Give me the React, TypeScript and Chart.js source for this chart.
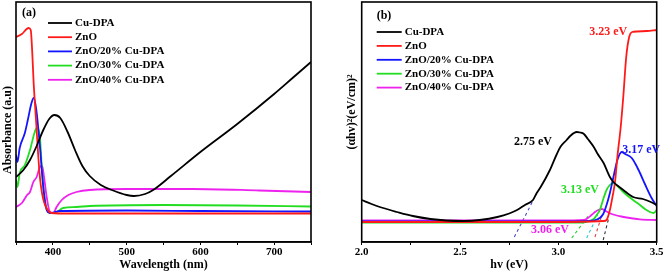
import React, { useEffect, useRef } from "react";
import { Chart, registerables } from "chart.js";

Chart.register(...registerables);

const SERIF = '"Liberation Serif", "Times New Roman", Times, serif';

// ---------- shared series ----------
const seriesNames = ["Cu-DPA", "ZnO", "ZnO/20% Cu-DPA", "ZnO/30% Cu-DPA", "ZnO/40% Cu-DPA"];
const seriesColors = ["#000000", "#ff1a1a", "#1414ff", "#22dd22", "#ee22ee"];

// ---------- panel (a): absorbance vs wavelength ----------
const cuDpaWavelength = [350, 360, 369, 378, 387, 395, 402, 410, 420, 430, 440, 450, 465, 480, 500, 510, 525, 536, 560, 600, 650, 700, 725, 750];
const cuDpaAbsorbance = [65, 72, 82, 96, 112, 123, 127, 124, 110, 92, 76, 66, 57, 52, 47, 46, 48, 52, 66, 90, 118, 148, 164, 180];

const znoWavelength = [350, 358, 367, 370, 372, 374, 376, 378, 380, 382.5, 385, 388, 392, 398, 420, 500, 600, 750];
const znoAbsorbance = [205, 208, 214, 212, 190, 158, 135, 112, 88, 64, 50, 40, 33, 29, 28.5, 28.5, 28.5, 28.5];

const zno20Wavelength = [350, 352, 355, 362, 366, 371, 374, 377.6, 382.5, 387, 391.6, 396, 410, 500, 600, 750];
const zno20Absorbance = [87, 80, 94, 109, 122, 139, 144, 132, 95, 55, 32, 29, 31, 31.5, 31, 30.5];

const zno30Wavelength = [350, 352, 355, 362, 369, 375, 378, 382.5, 385.5, 389, 394, 398.5, 405, 414, 432, 450, 550, 650, 750];
const zno30Absorbance = [62, 55, 69, 77, 92, 109, 114, 104, 69, 42, 30, 29, 30, 34, 35, 36, 37, 36.5, 35.5];

const zno40Wavelength = [350, 358, 365, 369, 373.5, 378, 382.5, 385.5, 388, 391.6, 396, 400.6, 405, 412, 421, 432, 450, 500, 590, 680, 750];
const zno40Absorbance = [35, 39, 47, 50, 60, 65, 75, 76, 65, 45, 30, 29, 35, 42, 47, 50, 52, 53, 53, 51.5, 50];

// ---------- panel (b): Tauc plot ----------
const cuDpaEnergy = [2.0, 2.05, 2.1, 2.18, 2.26, 2.35, 2.43, 2.52, 2.6, 2.69, 2.75, 2.79, 2.83, 2.871, 2.89, 2.91, 2.957, 2.99, 3.01, 3.042, 3.06, 3.093, 3.11, 3.13, 3.15, 3.18, 3.2, 3.23, 3.262, 3.28, 3.31, 3.33, 3.38, 3.43, 3.47, 3.5];
const cuDpaTauc = [42, 38, 34.5, 30, 26, 23, 21.5, 21, 22, 25, 28.5, 32, 37, 42, 49, 55, 72, 87, 95, 102, 106, 110, 109.5, 108, 103, 95, 88, 79, 65, 60, 55, 52, 45, 43, 40, 37];

const znoEnergy = [2.0, 2.5, 3.0, 3.23, 3.245, 3.262, 3.275, 3.288, 3.3, 3.317, 3.33, 3.345, 3.36, 3.375, 3.4, 3.45, 3.5];
const znoTauc = [20, 20, 20, 21, 22, 32, 45, 60, 85, 115, 145, 185, 205, 210, 210.5, 211, 212];

const zno20Energy = [2.0, 2.5, 3.0, 3.15, 3.19, 3.21, 3.228, 3.245, 3.262, 3.28, 3.3, 3.322, 3.34, 3.373, 3.395, 3.415, 3.44, 3.474, 3.5];
const zno20Tauc = [20.5, 20.5, 20.5, 21, 22, 24, 28, 37, 49, 65, 82, 90, 88, 84, 77, 69, 58, 44, 36];

const zno30Energy = [2.0, 2.5, 3.0, 3.12, 3.16, 3.18, 3.195, 3.211, 3.23, 3.245, 3.262, 3.279, 3.3, 3.325, 3.347, 3.38, 3.415, 3.44, 3.466, 3.485, 3.5];
const zno30Tauc = [19.5, 19.5, 19.5, 19.5, 21, 23, 27, 32, 44, 52, 57, 59, 56, 51, 47, 42, 37, 33, 30, 29, 32];

const zno40Energy = [2.0, 2.5, 3.0, 3.13, 3.15, 3.169, 3.19, 3.203, 3.22, 3.245, 3.265, 3.288, 3.32, 3.347, 3.38, 3.415, 3.5];
const zno40Tauc = [21.5, 21.5, 21.5, 22, 24, 27, 30.5, 32, 33, 30.5, 28.5, 27, 25.5, 24.5, 23.5, 22.7, 22];

// tangent (extrapolation) lines
const tangentColors = ["#4b4bd0", "#22cc22", "#22cccc", "#e04040", "#333333"];
const tangentEnergyStart = [2.776, 3.068, 3.144, 3.186, 3.228];
const tangentEnergyEnd = [2.873, 3.16, 3.2, 3.223, 3.256];
const tangentTaucStart = [5, 4, 4, 5, 2];
const tangentTaucEnd = [42, 28, 27, 28, 24];

// band-gap labels
const bandGapLabels = ["2.75 eV", "3.23 eV", "3.17 eV", "3.13 eV", "3.06 eV"];
const bandGapColors = ["#000000", "#ff1a1a", "#1414ff", "#22dd22", "#ee22ee"];
const bandGapLabelEnergy = [2.871, 3.253, 3.421, 3.11, 2.957];
const bandGapLabelTauc = [100, 210, 92, 52, 12];

const pts = (xs: number[], ys: number[]) => xs.map((x, i) => ({ x, y: ys[i] }));

const W = 669;
const H = 272;

function overlay(opts: any) {
  return {
    id: "overlay-" + opts.panel,
    afterDraw(chart: any) {
      const { ctx, chartArea: a } = chart;
      ctx.save();
      ctx.strokeStyle = "#000";
      ctx.lineWidth = 1.6;
      ctx.strokeRect(a.left, a.top, a.right - a.left, a.bottom - a.top);

      ctx.fillStyle = "#000";
      ctx.textBaseline = "middle";
      ctx.textAlign = "left";
      ctx.font = `bold 12px ${SERIF}`;
      ctx.fillText(opts.panel, a.left + opts.panelDx, opts.panelY);

      ctx.font = `bold 11px ${SERIF}`;
      seriesNames.forEach((n, i) => {
        const y = opts.legendY + i * opts.legendStep;
        ctx.strokeStyle = seriesColors[i];
        ctx.lineWidth = 1.8;
        ctx.beginPath();
        ctx.moveTo(a.left + opts.legendX0, y);
        ctx.lineTo(a.left + opts.legendX1, y);
        ctx.stroke();
        ctx.fillStyle = "#000";
        ctx.fillText(n, a.left + opts.legendX1 + 3, y);
      });

      if (opts.labels) {
        ctx.font = `bold 12px ${SERIF}`;
        ctx.textAlign = "center";
        const xs = chart.scales.x;
        const ys = chart.scales.y;
        opts.labels.forEach((t: string, i: number) => {
          ctx.fillStyle = bandGapColors[i];
          ctx.fillText(t, xs.getPixelForValue(bandGapLabelEnergy[i]), ys.getPixelForValue(bandGapLabelTauc[i]));
        });
      }

      ctx.fillStyle = "#000";
      ctx.font = `bold 12px ${SERIF}`;
      ctx.textAlign = "center";
      ctx.translate(opts.yTitleX, opts.yTitleY);
      ctx.rotate(-Math.PI / 2);
      ctx.fillText(opts.yTitle, 0, 0);
      ctx.restore();
    },
  };
}

function xAxis(min: number, max: number, step: number, cb: (v: number) => string, title: string) {
  return {
    type: "linear",
    min,
    max,
    offset: false,
    ticks: {
      stepSize: step,
      autoSkip: false,
      maxRotation: 0,
      padding: 1,
      color: "#000",
      font: { family: SERIF, size: 11, weight: "bold" },
      callback: (v: any) => cb(Number(v)),
    },
    grid: { drawOnChartArea: false, drawTicks: true, tickLength: 3, color: "#000", lineWidth: 1 },
    border: { color: "#000", width: 1.6 },
    title: {
      display: true,
      text: title,
      color: "#000",
      padding: 0,
      font: { family: SERIF, size: 12, weight: "bold" },
    },
    afterFit: (s: any) => {
      s.height = 30;
    },
  };
}

function lineDs(label: string, data: any[], color: string, order: number) {
  return {
    label,
    data,
    borderColor: color,
    backgroundColor: color,
    borderWidth: 1.8,
    pointRadius: 0,
    fill: false,
    cubicInterpolationMode: "monotone",
    order,
  };
}

export default function App() {
  const refA = useRef<HTMLCanvasElement>(null);
  const refB = useRef<HTMLCanvasElement>(null);

  useEffect(() => {
    const aX = [cuDpaWavelength, znoWavelength, zno20Wavelength, zno30Wavelength, zno40Wavelength];
    const aY = [cuDpaAbsorbance, znoAbsorbance, zno20Absorbance, zno30Absorbance, zno40Absorbance];
    const bX = [cuDpaEnergy, znoEnergy, zno20Energy, zno30Energy, zno40Energy];
    const bY = [cuDpaTauc, znoTauc, zno20Tauc, zno30Tauc, zno40Tauc];

    const chartA = new Chart(refA.current!, {
      type: "line",
      data: {
        datasets: seriesNames.map((n, i) => lineDs(n, pts(aX[i], aY[i]), seriesColors[i], i)) as any,
      },
      options: {
        animation: false,
        responsive: false,
        devicePixelRatio: 1,
        layout: { padding: { left: 16, right: W - 311, top: 2, bottom: 0 } },
        plugins: { legend: { display: false }, tooltip: { enabled: false } },
        scales: {
          x: xAxis(350, 750, 50, (v) => (v % 100 === 0 && v > 350 && v < 750 ? String(v) : ""), "Wavelength (nm)") as any,
          y: { display: false, min: 0, max: 240 },
        },
      },
      plugins: [
        overlay({
          panel: "(a)",
          panelDx: 6,
          panelY: 13,
          legendX0: 32,
          legendX1: 56,
          legendY: 23,
          legendStep: 14.2,
          yTitle: "Absorbance (a.u)",
          yTitleX: 8,
          yTitleY: 130,
        }),
      ],
    });

    const tangents = tangentColors.map((c, i) => ({
      label: "tangent" + i,
      data: [
        { x: tangentEnergyStart[i], y: tangentTaucStart[i] },
        { x: tangentEnergyEnd[i], y: tangentTaucEnd[i] },
      ],
      borderColor: c,
      borderWidth: 1.1,
      borderDash: [3, 3],
      pointRadius: 0,
      fill: false,
      order: 10 + i,
    }));

    const chartB = new Chart(refB.current!, {
      type: "line",
      data: {
        datasets: [
          ...seriesNames.map((n, i) => lineDs(n, pts(bX[i], bY[i]), seriesColors[i], i)),
          ...tangents,
        ] as any,
      },
      options: {
        animation: false,
        responsive: false,
        devicePixelRatio: 1,
        layout: { padding: { left: 361.7, right: W - 656.7, top: 2, bottom: 0 } },
        plugins: { legend: { display: false }, tooltip: { enabled: false } },
        scales: {
          x: xAxis(2.0, 3.5, 0.25, (v) => (Math.abs(v * 2 - Math.round(v * 2)) < 1e-6 ? v.toFixed(1) : ""), "hv (eV)") as any,
          y: { display: false, min: 0, max: 240 },
        },
      },
      plugins: [
        overlay({
          panel: "(b)",
          panelDx: 15,
          panelY: 16,
          legendX0: 15,
          legendX1: 40,
          legendY: 32,
          legendStep: 13.9,
          yTitle: "(\u03B1hv)\u00B2(eV/cm)\u00B2",
          yTitleX: 352,
          yTitleY: 112,
          labels: bandGapLabels,
        }),
      ],
    });

    return () => {
      chartA.destroy();
      chartB.destroy();
    };
  }, []);

  const style: React.CSSProperties = { position: "absolute", left: 0, top: 0, width: W, height: H };
  return (
    <div style={{ position: "absolute", left: 0, top: 0, width: W, height: H, background: "#fff" }}>
      <canvas ref={refA} width={W} height={H} style={style} />
      <canvas ref={refB} width={W} height={H} style={style} />
    </div>
  );
}
